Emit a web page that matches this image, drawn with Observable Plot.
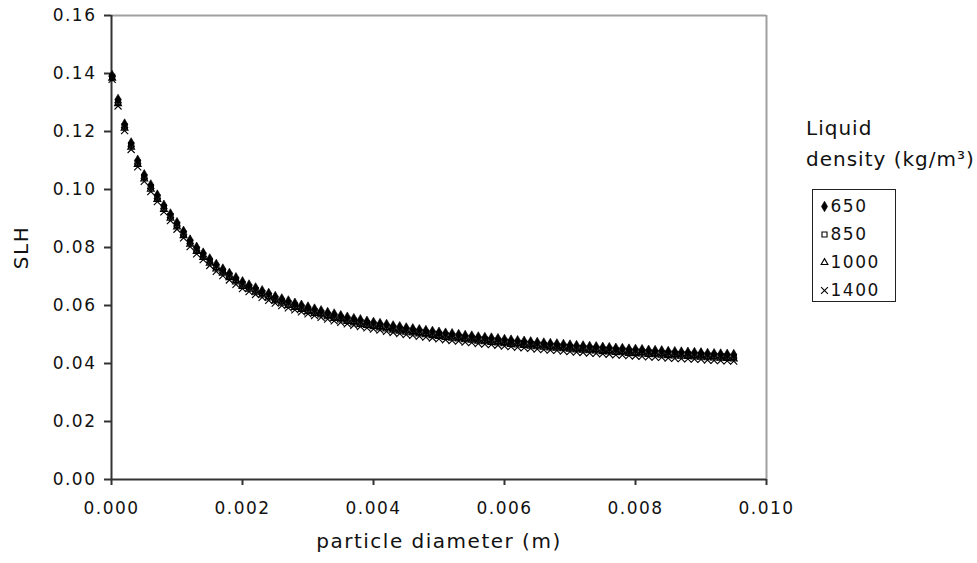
<!DOCTYPE html>
<html><head><meta charset="utf-8">
<script src="https://cdn.jsdelivr.net/npm/d3@7"></script>
<script src="https://cdn.jsdelivr.net/npm/@observablehq/plot@0.6"></script>
<style>
body{margin:0;background:#fff;font-family:"DejaVu Sans",sans-serif;}
#wrap{position:relative;width:977px;height:563px;}
#legend{position:absolute;left:806px;top:113px;}
#ltitle{font-size:20px;line-height:31px;letter-spacing:1px;color:#111;white-space:nowrap;}
#lbox{position:absolute;left:6px;top:76px;border:1.5px solid #222;width:82px;height:111px;}
svg text{letter-spacing:1.5px;}
g[aria-label="x-axis label"] text, g[aria-label="y-axis label"] text{font-size:20px;}
</style></head><body>
<div id="wrap"><div id="chart"></div>
<div id="legend"><div id="ltitle">Liquid<br>density (kg/m³)</div><div id="lbox"></div></div></div>
<script>
const seriesLabels = ["650", "850", "1000", "1400"];
const xTicks = [0, 0.002, 0.004, 0.006, 0.008, 0.010];
const yTicks = [0, 0.02, 0.04, 0.06, 0.08, 0.10, 0.12, 0.14, 0.16];

const diameters = [
0.00001,0.0001,0.0002,0.0003,0.0004,0.0005,0.0006,0.0007,0.0008,0.0009,
0.0010,0.0011,0.0012,0.0013,0.0014,0.0015,0.0016,0.0017,0.0018,0.0019,
0.0020,0.0021,0.0022,0.0023,0.0024,0.0025,0.0026,0.0027,0.0028,0.0029,
0.0030,0.0031,0.0032,0.0033,0.0034,0.0035,0.0036,0.0037,0.0038,0.0039,
0.0040,0.0041,0.0042,0.0043,0.0044,0.0045,0.0046,0.0047,0.0048,0.0049,
0.0050,0.0051,0.0052,0.0053,0.0054,0.0055,0.0056,0.0057,0.0058,0.0059,
0.0060,0.0061,0.0062,0.0063,0.0064,0.0065,0.0066,0.0067,0.0068,0.0069,
0.0070,0.0071,0.0072,0.0073,0.0074,0.0075,0.0076,0.0077,0.0078,0.0079,
0.0080,0.0081,0.0082,0.0083,0.0084,0.0085,0.0086,0.0087,0.0088,0.0089,
0.0090,0.0091,0.0092,0.0093,0.0094,0.0095];

const slh650 = [
0.1392,0.1310,0.1225,0.1160,0.1100,0.1050,0.1015,0.0980,0.0945,0.0915,
0.0885,0.0855,0.0825,0.0800,0.0780,0.0760,0.0741,0.0725,0.0710,0.0695,
0.0681,0.0670,0.0660,0.0650,0.0641,0.0630,0.0622,0.0615,0.0607,0.0600,
0.0594,0.0587,0.0581,0.0575,0.0570,0.0564,0.0559,0.0554,0.0550,0.0545,
0.0541,0.0537,0.0534,0.0529,0.0526,0.0522,0.0519,0.0516,0.0513,0.0510,
0.0507,0.0504,0.0502,0.0499,0.0496,0.0494,0.0491,0.0489,0.0487,0.0485,
0.0482,0.0480,0.0478,0.0476,0.0474,0.0472,0.0470,0.0468,0.0467,0.0465,
0.0463,0.0461,0.0460,0.0458,0.0457,0.0455,0.0454,0.0452,0.0451,0.0449,
0.0448,0.0447,0.0445,0.0444,0.0443,0.0441,0.0440,0.0439,0.0438,0.0437,
0.0436,0.0434,0.0433,0.0432,0.0431,0.0430];

const slh850 = [
0.1388,0.1303,0.1218,0.1153,0.1093,0.1043,0.1008,0.0973,0.0938,0.0908,
0.0878,0.0848,0.0818,0.0793,0.0773,0.0753,0.0733,0.0718,0.0703,0.0688,
0.0673,0.0663,0.0653,0.0643,0.0633,0.0623,0.0615,0.0607,0.0600,0.0593,
0.0586,0.0580,0.0574,0.0568,0.0562,0.0557,0.0552,0.0547,0.0542,0.0538,
0.0534,0.0530,0.0526,0.0522,0.0518,0.0515,0.0512,0.0509,0.0506,0.0503,
0.0500,0.0497,0.0494,0.0492,0.0489,0.0487,0.0484,0.0482,0.0480,0.0478,
0.0475,0.0473,0.0471,0.0469,0.0467,0.0465,0.0463,0.0461,0.0460,0.0458,
0.0456,0.0454,0.0453,0.0451,0.0450,0.0448,0.0447,0.0445,0.0444,0.0442,
0.0441,0.0440,0.0438,0.0437,0.0436,0.0434,0.0433,0.0432,0.0431,0.0430,
0.0429,0.0427,0.0426,0.0425,0.0424,0.0423];

const slh1000 = [
0.1384,0.1296,0.1211,0.1146,0.1086,0.1036,0.1001,0.0966,0.0931,0.0901,
0.0871,0.0841,0.0811,0.0786,0.0766,0.0746,0.0726,0.0711,0.0696,0.0681,
0.0666,0.0656,0.0646,0.0636,0.0626,0.0616,0.0608,0.0600,0.0593,0.0586,
0.0579,0.0573,0.0567,0.0561,0.0555,0.0550,0.0545,0.0540,0.0535,0.0531,
0.0527,0.0523,0.0519,0.0515,0.0511,0.0508,0.0505,0.0502,0.0499,0.0496,
0.0493,0.0490,0.0487,0.0485,0.0482,0.0480,0.0477,0.0475,0.0473,0.0471,
0.0468,0.0466,0.0464,0.0462,0.0460,0.0458,0.0456,0.0454,0.0453,0.0451,
0.0449,0.0447,0.0446,0.0444,0.0443,0.0441,0.0440,0.0438,0.0437,0.0435,
0.0434,0.0433,0.0431,0.0430,0.0429,0.0427,0.0426,0.0425,0.0424,0.0423,
0.0422,0.0420,0.0419,0.0418,0.0417,0.0416];

const slh1400 = [
0.1380,0.1288,0.1203,0.1138,0.1078,0.1028,0.0993,0.0958,0.0923,0.0893,
0.0863,0.0833,0.0803,0.0778,0.0758,0.0738,0.0718,0.0703,0.0688,0.0673,
0.0658,0.0648,0.0638,0.0628,0.0618,0.0608,0.0600,0.0592,0.0585,0.0578,
0.0571,0.0565,0.0559,0.0553,0.0547,0.0542,0.0537,0.0532,0.0527,0.0523,
0.0519,0.0515,0.0511,0.0507,0.0503,0.0500,0.0497,0.0494,0.0491,0.0488,
0.0485,0.0482,0.0479,0.0477,0.0474,0.0472,0.0469,0.0467,0.0465,0.0463,
0.0460,0.0458,0.0456,0.0454,0.0452,0.0450,0.0448,0.0446,0.0445,0.0443,
0.0441,0.0439,0.0438,0.0436,0.0435,0.0433,0.0432,0.0430,0.0429,0.0427,
0.0426,0.0425,0.0423,0.0422,0.0421,0.0419,0.0418,0.0417,0.0416,0.0415,
0.0414,0.0412,0.0411,0.0410,0.0409,0.0408];

const seriesValues = [slh650, slh850, slh1000, slh1400];
const symbolStyles = [
  {symbol: "diamond", fill: "#000", stroke: "#000", strokeWidth: 0.6},
  {symbol: "square2", fill: "none", stroke: "#000", strokeWidth: 1.1},
  {symbol: "triangle2", fill: "none", stroke: "#000", strokeWidth: 1.1},
  {symbol: "times", fill: "none", stroke: "#000", strokeWidth: 1.1}
];

const rows = seriesValues.map((vals, k) => vals.map((v, i) => ({d: diameters[i], slh: v, s: seriesLabels[k]})));

const chart = Plot.plot({
  width: 977, height: 563,
  marginLeft: 111, marginRight: 211, marginTop: 15, marginBottom: 84,
  style: {fontFamily: "DejaVu Sans", fontSize: "17px", color: "#111", background: "#fff", overflow: "visible"},
  x: {domain: [0, 0.01]},
  y: {domain: [0, 0.16]},
  marks: [
    Plot.ruleY([0.16], {stroke: "#a0a0a0", strokeWidth: 2}),
    Plot.ruleX([0.01], {stroke: "#a0a0a0", strokeWidth: 2}),
    Plot.axisX({ticks: xTicks, tickFormat: d3.format(".3f"), tickSize: 6, tickPadding: 16, stroke: "#333", strokeWidth: 2,
      label: "particle diameter (m)", labelArrow: "none", labelAnchor: "center", labelOffset: 68}),
    Plot.axisY({ticks: yTicks, tickFormat: d3.format(".2f"), tickSize: 7, tickPadding: 8, stroke: "#333", strokeWidth: 2,
      label: "SLH", labelArrow: "none", labelAnchor: "center", labelOffset: 98}),
    Plot.ruleX([0], {stroke: "#333", strokeWidth: 2}),
    Plot.ruleY([0], {stroke: "#333", strokeWidth: 2}),
    ...rows.map((r, k) => Plot.dot(r, {x: "d", y: "slh", r: 3.3, ...symbolStyles[k]}))
  ]
});
document.getElementById("chart").appendChild(chart);

const legend = Plot.plot({
  width: 82, height: 111,
  marginLeft: 0, marginRight: 0, marginTop: 2, marginBottom: -3,
  style: {fontFamily: "DejaVu Sans", fontSize: "17px", color: "#111", background: "#fff"},
  x: {axis: null},
  y: {domain: seriesLabels, axis: null},
  marks: [
    ...seriesLabels.map((lab, k) => Plot.dot([lab], {y: d => d, frameAnchor: "left", dx: 11, r: 3.2, ...symbolStyles[k]})),
    Plot.text(seriesLabels, {y: d => d, text: d => d, frameAnchor: "left", dx: 17, textAnchor: "start", fill: "#111"})
  ]
});
document.getElementById("lbox").appendChild(legend);
</script>
</body></html>
